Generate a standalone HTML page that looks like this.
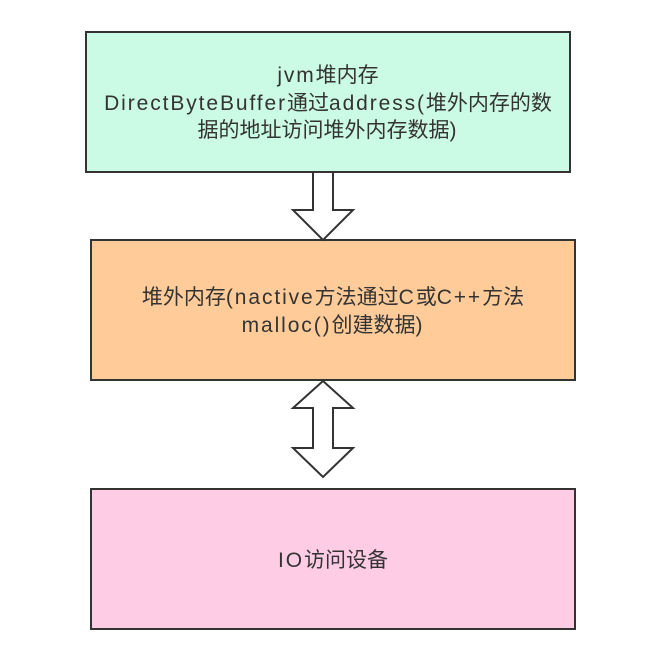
<!DOCTYPE html>
<html><head><meta charset="utf-8"><style>
body{margin:0;width:662px;height:658px;background:#fff;position:relative;overflow:hidden;font-family:"Liberation Sans","Noto Sans CJK SC",sans-serif;}
.b{position:absolute;box-sizing:border-box;border:2px solid #333;display:flex;align-items:center;justify-content:center;text-align:center;font-size:21px;line-height:27.5px;color:#333;}
.b>div{padding-top:3px;}
.l{letter-spacing:1.9px;}
</style></head><body>
<div class="b" style="left:85px;top:31px;width:486px;height:142px;background:#ccfbe5;"><div><span class="l">jvm</span>堆内存<br><span class="l">DirectByteBuffer</span>通过<span class="l">address(</span>堆外内存的数<br>据的地址访问堆外内存数据<span class="l">)</span></div></div>
<div class="b" style="left:90px;top:239px;width:486px;height:142px;background:#ffcc99;"><div>堆外内存<span class="l">(nactive</span>方法通过<span class="l">C</span>或<span class="l">C++</span>方法<br><span class="l">malloc()</span>创建数据<span class="l">)</span></div></div>
<div class="b" style="left:90px;top:488px;width:486px;height:142px;background:#ffcce6;"><div><span class="l">IO</span>访问设备</div></div>
<svg width="662" height="658" style="position:absolute;left:0;top:0">
<polygon points="313,172 333,172 333,210 353,210 323,240 293,210 313,210" fill="#fff" stroke="#333" stroke-width="2"/>
<polygon points="323,381 353,408 333,408 333,448 353,448 323,477 293,448 313,448 313,408 293,408" fill="#fff" stroke="#333" stroke-width="2"/>
</svg>
</body></html>
